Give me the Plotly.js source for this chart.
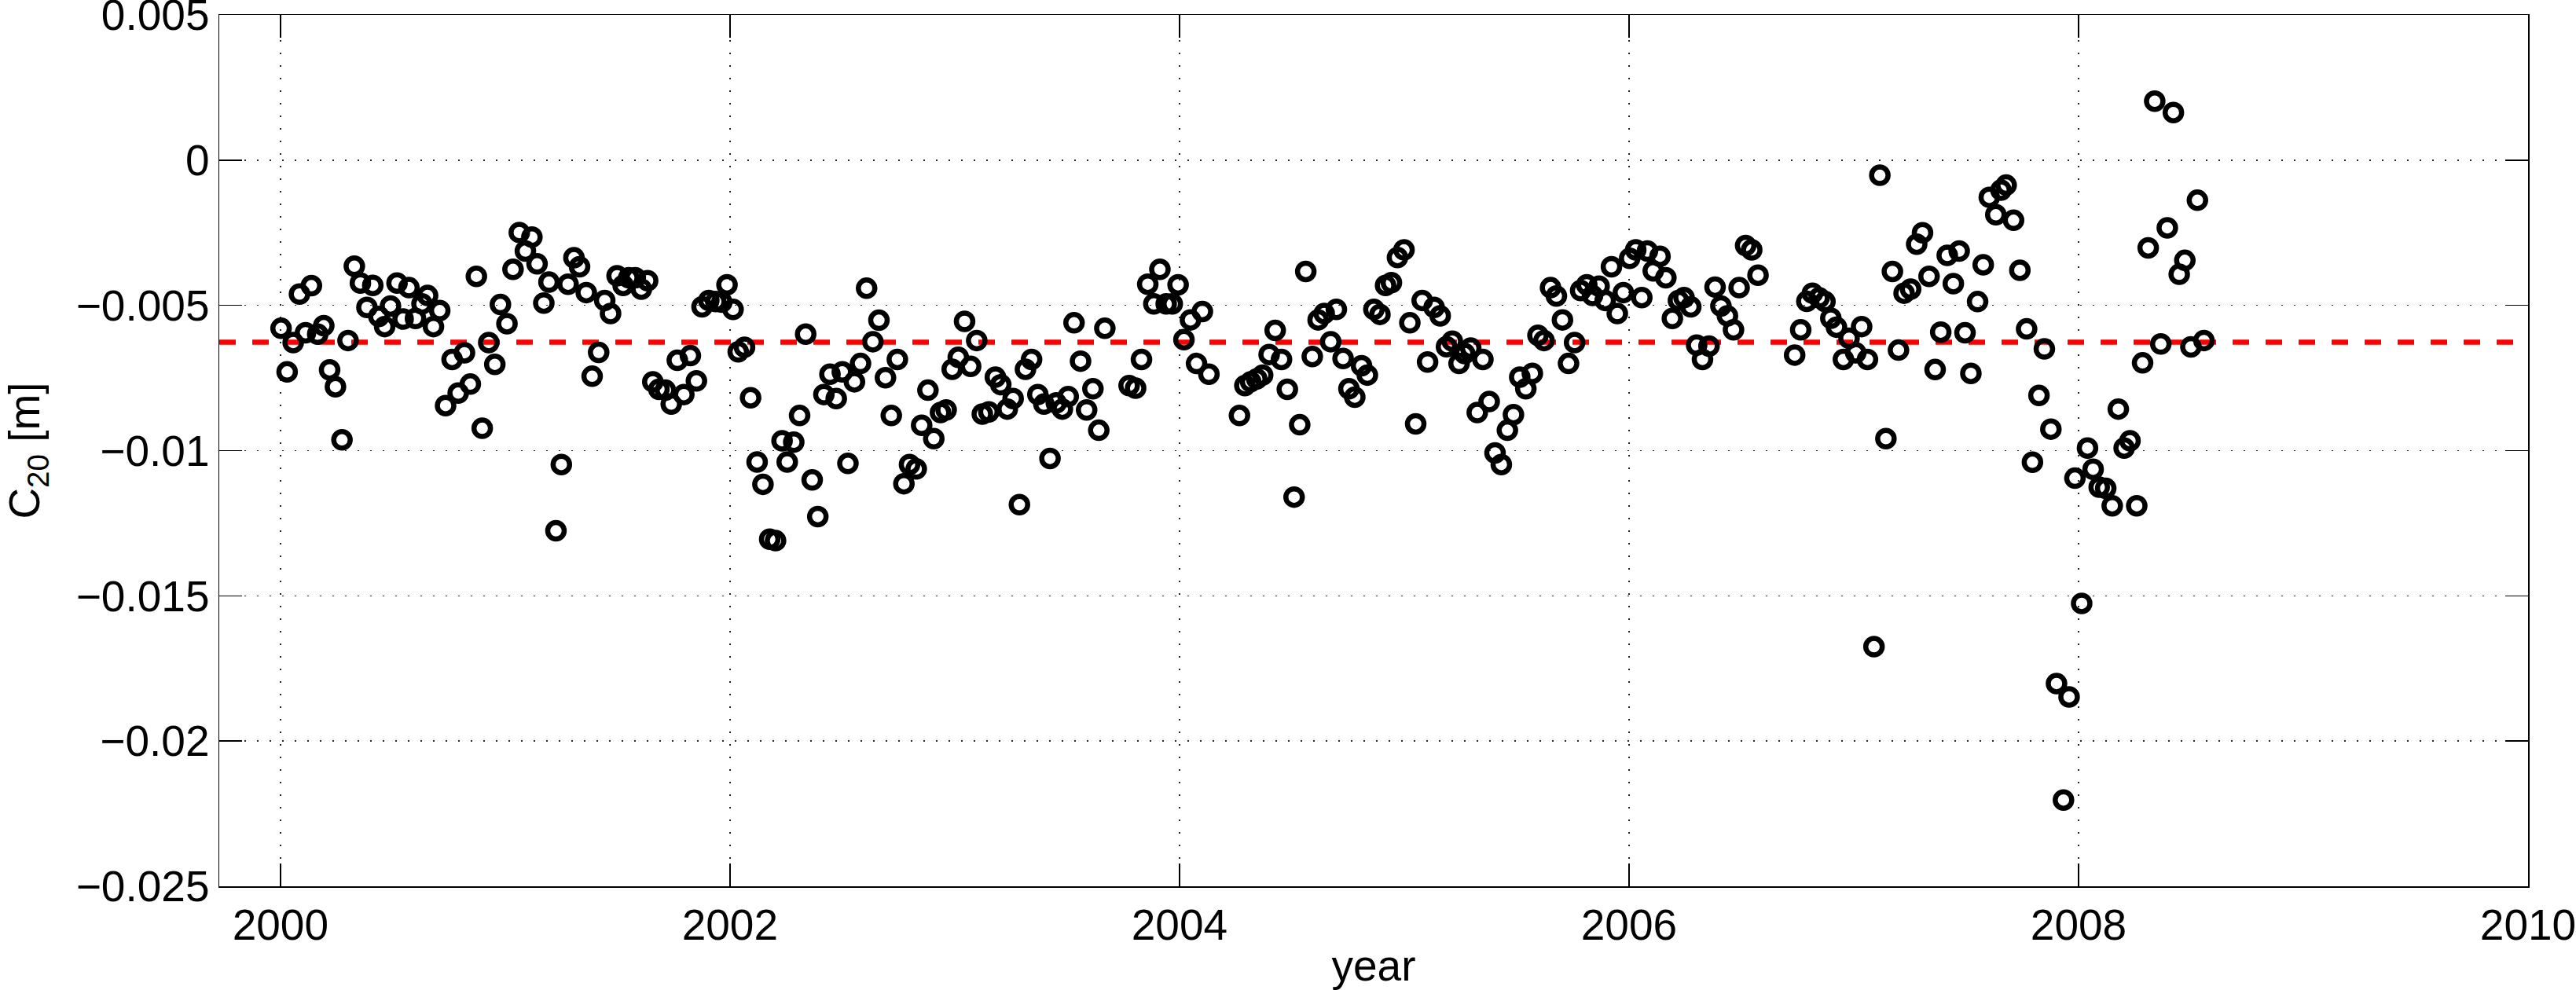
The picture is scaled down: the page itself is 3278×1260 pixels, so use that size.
<!DOCTYPE html>
<html>
<head>
<meta charset="utf-8">
<script src="https://cdn.plot.ly/plotly-3.0.1.min.js"></script>
<style>html,body{margin:0;padding:0;background:#fff;}#chart{width:3278px;height:1260px;}</style>
</head>
<body>
<div id="chart"></div>
<script>
// decimal year of each solution
const years = [
2000.003,2000.030,2000.057,2000.085,2000.112,2000.138,2000.166,2000.193,2000.219,2000.245,
2000.274,2000.301,2000.329,2000.356,2000.385,2000.411,2000.438,2000.464,2000.490,2000.519,
2000.546,2000.572,2000.601,2000.630,2000.655,2000.681,2000.709,2000.735,2000.764,2000.791,
2000.819,2000.845,2000.872,2000.898,2000.927,2000.954,2000.979,2001.008,2001.035,2001.063,
2001.090,2001.119,2001.142,2001.172,2001.195,2001.226,2001.250,
2001.280,2001.306,2001.331,2001.361,2001.387,2001.416,2001.443,2001.469,2001.498,2001.525,
2001.550,2001.579,2001.606,2001.634,2001.657,2001.684,2001.713,2001.739,2001.766,2001.795,
2001.824,2001.851,2001.876,2001.906,2001.937,2001.964,2001.987,2002.014,2002.037,2002.065,
2002.092,2002.121,2002.147,2002.177,2002.203,2002.232,2002.255,2002.284,2002.310,2002.337,
2002.366,2002.391,2002.418,2002.445,2002.473,2002.500,2002.525,
2002.554,2002.581,2002.608,2002.636,2002.663,2002.692,2002.718,2002.745,2002.774,2002.799,
2002.829,2002.853,2002.881,2002.907,2002.937,2002.962,2002.989,2003.016,2003.044,2003.071,
2003.098,2003.123,2003.152,2003.181,2003.205,2003.234,2003.260,2003.288,2003.315,2003.342,
2003.370,2003.397,2003.424,2003.452,2003.479,2003.505,2003.531,2003.560,2003.587,2003.615,
2003.641,2003.668,2003.776,2003.805,
2003.831,2003.859,2003.886,2003.913,2003.941,2003.968,2003.994,2004.020,2004.049,2004.076,
2004.102,2004.131,2004.267,2004.291,2004.317,2004.344,2004.370,2004.399,2004.426,2004.454,
2004.480,2004.510,2004.535,2004.562,2004.591,2004.617,2004.644,2004.673,2004.698,2004.728,
2004.754,2004.780,2004.810,2004.836,2004.865,2004.892,2004.917,2004.943,2004.970,2004.999,
2005.025,2005.051,2005.080,
2005.104,2005.133,2005.160,2005.188,2005.214,2005.244,2005.269,2005.296,2005.325,2005.350,
2005.378,2005.404,2005.432,2005.459,2005.486,2005.514,2005.541,2005.570,2005.595,2005.622,
2005.651,2005.677,2005.704,2005.731,2005.758,2005.785,2005.812,2005.838,2005.867,2005.894,
2005.922,2005.948,2005.975,2006.003,2006.030,2006.057,2006.082,2006.108,2006.138,2006.164,
2006.193,2006.220,2006.245,2006.275,2006.301,2006.327,2006.356,2006.383,
2006.409,2006.438,2006.465,2006.490,2006.519,2006.546,2006.574,2006.737,2006.764,2006.791,
2006.816,2006.846,2006.872,2006.898,2006.923,2006.954,2006.979,2007.009,2007.035,2007.061,
2007.090,2007.116,2007.143,2007.172,2007.199,2007.224,2007.253,2007.280,2007.306,2007.335,
2007.362,2007.387,2007.416,2007.443,2007.469,2007.495,2007.521,2007.551,2007.576,2007.603,
2007.632,2007.655,2007.678,
2007.711,2007.739,2007.769,2007.795,2007.824,2007.848,2007.877,2007.902,2007.933,2007.958,
2007.984,2008.014,2008.040,2008.065,2008.092,2008.121,2008.150,2008.177,2008.203,2008.229,
2008.259,2008.285,2008.310,2008.339,2008.366,2008.395,2008.422,2008.448,2008.473,2008.500,
2008.529,2008.558
];

// C20 values [m]
const c20 = [
-0.00579,-0.00729,-0.00628,-0.00461,-0.00594,-0.00432,-0.00599,-0.00570,-0.00722,-0.00780,
-0.00963,-0.00621,-0.00365,-0.00423,-0.00507,-0.00431,-0.00538,-0.00573,-0.00502,-0.00423,
-0.00547,-0.00439,-0.00545,-0.00495,-0.00466,-0.00573,-0.00518,-0.00845,-0.00686,-0.00802,
-0.00663,-0.00771,-0.00400,-0.00923,-0.00628,-0.00703,-0.00497,-0.00563,-0.00376,-0.00249,
-0.00313,-0.00265,-0.00357,-0.00492,-0.00420,-0.01276,-0.01048,
-0.00427,-0.00336,-0.00367,-0.00456,-0.00744,-0.00662,-0.00483,-0.00528,-0.00398,-0.00431,
-0.00405,-0.00405,-0.00444,-0.00415,-0.00763,-0.00789,-0.00792,-0.00840,-0.00689,-0.00807,
-0.00673,-0.00760,-0.00505,-0.00483,-0.00487,-0.00489,-0.00429,-0.00514,-0.00660,-0.00644,
-0.00818,-0.01039,-0.01116,-0.01305,-0.01310,-0.00966,-0.01039,-0.00971,-0.00879,-0.00599,
-0.01101,-0.01227,-0.00807,-0.00737,-0.00821,-0.00729,-0.01044,
-0.00763,-0.00700,-0.00441,-0.00625,-0.00551,-0.00749,-0.00879,-0.00686,-0.01114,-0.01048,
-0.01063,-0.00913,-0.00792,-0.00959,-0.00869,-0.00860,-0.00720,-0.00679,-0.00555,-0.00710,
-0.00621,-0.00874,-0.00867,-0.00747,-0.00773,-0.00857,-0.00821,-0.01186,-0.00720,-0.00686,
-0.00807,-0.00840,-0.01027,-0.00836,-0.00857,-0.00814,-0.00560,-0.00692,-0.00860,-0.00787,
-0.00930,-0.00579,-0.00776,-0.00785,
-0.00686,-0.00427,-0.00495,-0.00376,-0.00495,-0.00495,-0.00429,-0.00618,-0.00550,-0.00700,
-0.00521,-0.00737,-0.00879,-0.00776,-0.00763,-0.00753,-0.00740,-0.00669,-0.00586,-0.00686,
-0.00789,-0.01160,-0.00911,-0.00383,-0.00676,-0.00550,-0.00528,-0.00625,-0.00514,-0.00683,
-0.00787,-0.00816,-0.00708,-0.00740,-0.00514,-0.00531,-0.00431,-0.00422,-0.00335,-0.00309,
-0.00560,-0.00908,-0.00483,
-0.00695,-0.00507,-0.00536,-0.00642,-0.00623,-0.00700,-0.00666,-0.00647,-0.00869,-0.00686,
-0.00831,-0.01008,-0.01048,-0.00930,-0.00876,-0.00747,-0.00787,-0.00734,-0.00603,-0.00621,
-0.00439,-0.00468,-0.00550,-0.00700,-0.00628,-0.00449,-0.00429,-0.00466,-0.00434,-0.00483,
-0.00367,-0.00528,-0.00456,-0.00338,-0.00309,-0.00473,-0.00313,-0.00381,-0.00331,-0.00405,
-0.00545,-0.00483,-0.00473,-0.00505,-0.00637,-0.00686,-0.00640,-0.00437,
-0.00502,-0.00536,-0.00584,-0.00439,-0.00294,-0.00309,-0.00396,-0.00671,-0.00584,-0.00486,
-0.00458,-0.00474,-0.00487,-0.00544,-0.00575,-0.00686,-0.00613,-0.00663,-0.00573,-0.00686,
-0.01675,-0.00052,-0.00959,-0.00383,-0.00654,-0.00458,-0.00444,-0.00289,-0.00250,-0.00400,
-0.00721,-0.00592,-0.00328,-0.00425,-0.00313,-0.00594,-0.00734,-0.00487,-0.00360,-0.00128,
-0.00188,-0.00103,-0.00086,
-0.00207,-0.00379,-0.00581,-0.01040,-0.00810,-0.00650,-0.00926,-0.01802,-0.02203,-0.01848,
-0.01095,-0.01526,-0.00991,-0.01064,-0.01126,-0.01130,-0.01190,-0.00857,-0.00991,-0.00966,
-0.01190,-0.00698,-0.00302,0.00203,-0.00633,-0.00233,0.00164,-0.00393,-0.00345,-0.00643,
-0.00138,-0.00621
];

// mean level (red dashed line)
const meanX = [1999.728, 2010];
const meanY = [-0.00627, -0.00627];

const xTickVals = [2000, 2002, 2004, 2006, 2008, 2010];
const xTickText = ['2000', '2002', '2004', '2006', '2008', '2010'];
const yTickVals = [0.005, 0, -0.005, -0.01, -0.015, -0.02, -0.025];
const yTickText = ['0.005', '0', '\u22120.005', '\u22120.01', '\u22120.015', '\u22120.02', '\u22120.025'];

const font = 'Liberation Sans, Arial, sans-serif';

const traces = [
  {
    x: meanX, y: meanY, type: 'scatter', mode: 'lines',
    line: {color: '#ff0000', width: 6.5, dash: '21px,21px'},
    hoverinfo: 'skip', showlegend: false
  },
  {
    x: years, y: c20, type: 'scatter', mode: 'markers',
    marker: {symbol: 'circle-open', size: 21, color: '#000000', line: {width: 6.5, color: '#000000'}},
    showlegend: false
  }
];

const axisCommon = {
  showline: true, linecolor: '#000', linewidth: 1.5, mirror: 'ticks',
  ticks: 'inside', ticklen: 29, tickwidth: 1.5, tickcolor: '#000',
  showgrid: true, gridcolor: '#222', gridwidth: 1.5, griddash: '2px,14px',
  zeroline: false, ticklabeloverflow: 'allow',
  tickfont: {family: font, size: 55, color: '#000'}
};

const layout = {
  width: 3278, height: 1260,
  margin: {l: 279, r: 61, t: 19, b: 132, pad: 0},
  paper_bgcolor: '#fff', plot_bgcolor: '#fff',
  showlegend: false,
  xaxis: Object.assign({}, axisCommon, {
    range: [1999.728, 2010], tickmode: 'array', tickvals: xTickVals, ticktext: xTickText,
    title: {text: 'year', font: {family: font, size: 55, color: '#000'}, standoff: 4}
  }),
  yaxis: Object.assign({}, axisCommon, {
    range: [-0.025, 0.005], tickmode: 'array', tickvals: yTickVals, ticktext: yTickText,
    title: {text: 'C<sub>20</sub> [m]', font: {family: font, size: 55, color: '#000'}, standoff: 44}
  })
};

Plotly.newPlot('chart', traces, layout, {staticPlot: true, displayModeBar: false});
</script>
</body>
</html>
